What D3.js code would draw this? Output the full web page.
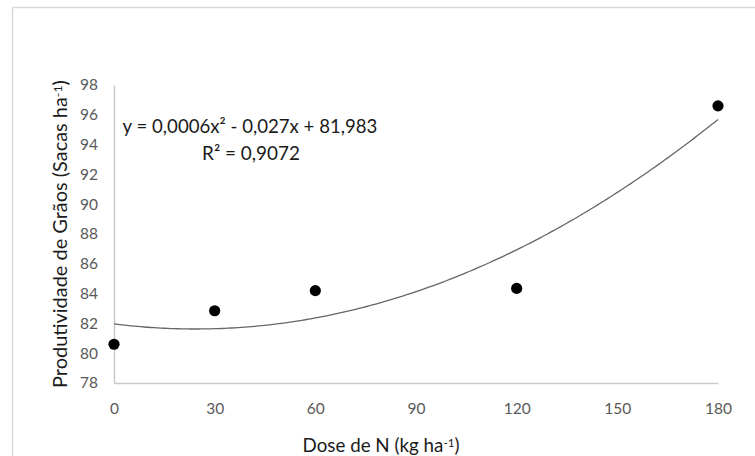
<!DOCTYPE html>
<html>
<head>
<meta charset="utf-8">
<script src="https://cdn.jsdelivr.net/npm/d3@7"></script>
<style>
  body { margin: 0; background: #fff; }
  text { font-family: Lato, "Open Sans", sans-serif; }
</style>
</head>
<body>
<div id="chart"></div>
<script>
// doses of N (kg/ha) and grain yield (sacas/ha)
const doses = [0, 30, 60, 120, 180];
const yields = [80.6, 82.85, 84.2, 84.35, 96.6];
const xTicks = [0, 30, 60, 90, 120, 150, 180];
const yTicks = [78, 80, 82, 84, 86, 88, 90, 92, 94, 96, 98];
const eqLabel = "y = 0,0006x² - 0,027x + 81,983";
const r2Label = "R² = 0,9072";

const width = 755, height = 456;
const margin = ({top: 85, right: 37, bottom: 73, left: 114});

const x = d3.scaleLinear([0, 180], [margin.left, width - margin.right]);
const y = d3.scaleLinear([78, 98], [height - margin.bottom, margin.top]);

// quadratic least squares fit (same as the excel trendline)
function polyFit2(xs, ys) {
    let s = [0, 0, 0, 0, 0], t = [0, 0, 0];
    xs.forEach((xi, i) => {
        for (let k = 0; k < 5; k++) s[k] += Math.pow(xi, k);
        for (let k = 0; k < 3; k++) t[k] += ys[i] * Math.pow(xi, k);
    });
    const m = [
        [s[0], s[1], s[2], t[0]],
        [s[1], s[2], s[3], t[1]],
        [s[2], s[3], s[4], t[2]]
    ];
    for (let i = 0; i < 3; i++) {
        for (let j = i + 1; j < 3; j++) {
            const f = m[j][i] / m[i][i];
            for (let k = i; k < 4; k++) m[j][k] -= f * m[i][k];
        }
    }
    const c = [0, 0, 0];
    for (let i = 2; i >= 0; i--) {
        let v = m[i][3];
        for (let k = i + 1; k < 3; k++) v -= m[i][k] * c[k];
        c[i] = v / m[i][i];
    }
    return c;
}
const coef = polyFit2(doses, yields);
const fit = d => coef[0] + coef[1] * d + coef[2] * d * d;

//HELPER: scale font so the text gets the width of the original (calibri) text
const fitText = (sel, target) => {
    const w = sel.node().getComputedTextLength();
    const fs = parseFloat(sel.style("font-size"));
    sel.style("font-size", (fs * target / w).toFixed(2) + "px");
};

const svg = d3.select("#chart")
    .append("svg")
    .attr("width", width)
    .attr("height", height)
    .attr("viewBox", [0, 0, width, height]);

// outer chart frame
svg.append("rect")
    .attr("x", 12.5).attr("y", 7.5)
    .attr("width", 800).attr("height", 500)
    .attr("fill", "none")
    .attr("stroke", "#d9d9d9")
    .attr("stroke-width", 1.5);

// tick font size from the width of "180"
const probe = svg.append("text").style("font-size", "20px").text("180");
fitText(probe, 27);
const tickSize = probe.style("font-size");
probe.remove();

// axes (no tick marks)
const xAxis = svg.append("g")
    .attr("transform", `translate(0,${y(78)})`)
    .call(d3.axisBottom(x).tickValues(xTicks).tickSize(0).tickPadding(20));
const yAxis = svg.append("g")
    .attr("transform", `translate(${x(0)},0)`)
    .call(d3.axisLeft(y).tickValues(yTicks).tickSize(0).tickPadding(16));

[xAxis, yAxis].forEach(g => {
    g.select(".domain").attr("stroke", "#c9c9c9").attr("stroke-width", 1.5);
    g.selectAll("text")
        .attr("fill", "#595959")
        .style("font-size", tickSize)
        .style("font-family", "Lato, sans-serif");
});

// trendline
svg.append("path")
    .datum(d3.range(0, 180.5, 1))
    .attr("fill", "none")
    .attr("stroke", "#666")
    .attr("stroke-width", 1.3)
    .attr("d", d3.line().x(d => x(d)).y(d => y(fit(d))));

// points
svg.append("g")
    .selectAll("circle")
    .data(doses)
    .join("circle")
        .attr("cx", d => x(d))
        .attr("cy", (d, i) => y(yields[i]))
        .attr("r", 5.6)
        .attr("fill", "#000");

// equation
const eq = svg.append("text")
    .attr("x", 250).attr("y", 133)
    .attr("text-anchor", "middle")
    .attr("fill", "#1a1a1a")
    .style("font-size", "18px")
    .text(eqLabel);
fitText(eq, 255);
const r2 = svg.append("text")
    .attr("x", 251).attr("y", 160)
    .attr("text-anchor", "middle")
    .attr("fill", "#1a1a1a")
    .style("font-size", "18px")
    .text(r2Label);
fitText(r2, 98);

// axis titles
const xt = svg.append("text")
    .attr("x", 381).attr("y", 452)
    .attr("text-anchor", "middle")
    .attr("fill", "#1a1a1a")
    .style("font-size", "18px");
xt.append("tspan").text("Dose de N (kg ha");
xt.append("tspan").attr("dy", "-0.4em").style("font-size", "0.62em").text("-1");
xt.append("tspan").attr("dy", "0.25em").text(")");
fitText(xt, 157);

const yt = svg.append("text")
    .attr("transform", `translate(67,234) rotate(-90)`)
    .attr("text-anchor", "middle")
    .attr("fill", "#1a1a1a")
    .style("font-size", "18px");
yt.append("tspan").text("Produtividade de Grãos (Sacas ha");
yt.append("tspan").attr("dy", "-0.4em").style("font-size", "0.62em").text("-1");
yt.append("tspan").attr("dy", "0.25em").text(")");
fitText(yt, 308);
</script>
</body>
</html>
